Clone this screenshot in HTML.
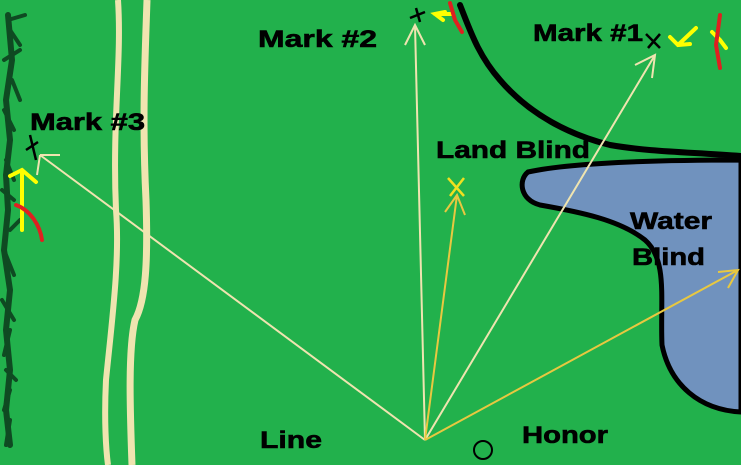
<!DOCTYPE html>
<html><head><style>body{margin:0}svg{display:block}text{font-family:"Liberation Sans",sans-serif;font-weight:bold;font-size:24px;fill:#000;stroke:#000;stroke-width:0.6}</style></head><body>
<svg width="741" height="465" viewBox="0 0 741 465" xmlns="http://www.w3.org/2000/svg">
<rect width="741" height="465" fill="#22b14c"/>
<path d="M118,0 C122,60 112,120 116,210 C120,260 112,320 106,380 C104,420 106,450 108,465" stroke="#efe4b0" stroke-width="6" fill="none"/>
<path d="M147,0 C145,60 142,120 146,200 C148,260 146,300 135,320 C128,350 130,410 132,465" stroke="#efe4b0" stroke-width="7" fill="none"/>
<path d="M8,15 L12,60 L6,100 L10,140 L6,175 L8,210 L4,250 L10,290 L6,330 L10,370 L6,410 L10,445" stroke="#0f4a22" stroke-width="6" fill="none" stroke-linecap="round"/>
<path d="M8,20 L25,15 M10,30 L20,45 M4,60 L20,50 M12,80 L20,100 M4,110 L14,130 M6,160 L14,180 M2,190 L14,200 M10,230 L20,220 M4,250 L14,275 M2,300 L14,320 M10,330 L4,355 M6,370 L16,380 M10,390 L4,410 M10,420 L6,445" stroke="#0f4a22" stroke-width="4" fill="none" stroke-linecap="round"/>
<path d="M528,172 C560,165 620,160 741,160 L741,412 C700,410 670,385 662,345 C660,300 668,260 645,240 C620,220 580,212 540,205 C520,200 518,180 528,172 Z" fill="#7092be" stroke="#000" stroke-width="5"/>
<path d="M460,5 C470,30 478,55 500,80 C530,115 570,135 610,145 C650,152 690,152 741,156" stroke="#000" stroke-width="6" fill="none" stroke-linecap="round"/>
<g stroke="#efe4b0" stroke-width="2" fill="none">
<path d="M425,440 L415,25 M405,45 L415,25 L425,45"/>
<path d="M425,440 L655,55 M635,65 L655,55 L652,78"/>
<path d="M425,440 L40,155 M40,155 L60,155 M40,155 L37,175"/>
</g>
<g stroke="#e8c840" stroke-width="2" fill="none">
<path d="M425,440 L457,195 M445,212 L457,195 L465,215"/>
<path d="M425,440 L738,270 M718,272 L738,270 L728,288"/>
</g>
<path d="M448,178 L464,196 M464,178 L450,196" stroke="#f0e020" stroke-width="2.5" fill="none"/>
<g stroke="#000" stroke-width="2.5" fill="none">
<path d="M410,18 L425,12 M416,8 L420,22"/>
<path d="M646,34 L660,48 M660,34 L648,48"/>
<path d="M30,135 L36,160 M26,150 L38,142"/>
</g>
<g stroke="#ffff00" stroke-width="4" fill="none" stroke-linecap="round">
<path d="M445,12 L435,14 L443,20 M435,14 L452,14"/>
<path d="M670,37 L678,45 L690,44 M678,45 L696,28"/>
<path d="M712,32 L720,40 L726,48"/>
<path d="M10,176 L22,170 L36,182 M22,170 L22,230"/>
</g>
<g stroke="#e02020" stroke-width="4" fill="none" stroke-linecap="round">
<path d="M450,3 L455,20 L462,32"/>
<path d="M720,15 L716,45 L720,68"/>
<path d="M16,205 C30,210 40,225 42,240"/>
</g>
<circle cx="483" cy="450" r="9" fill="none" stroke="#000" stroke-width="2"/>
<text x="258" y="47" textLength="119" lengthAdjust="spacingAndGlyphs">Mark #2</text>
<text x="533" y="41" textLength="110" lengthAdjust="spacingAndGlyphs">Mark #1</text>
<text x="30" y="130" textLength="115" lengthAdjust="spacingAndGlyphs">Mark #3</text>
<text x="436" y="158" textLength="154" lengthAdjust="spacingAndGlyphs">Land Blind</text>
<text x="630" y="229" textLength="82" lengthAdjust="spacingAndGlyphs">Water</text>
<text x="632" y="265" textLength="73" lengthAdjust="spacingAndGlyphs">Blind</text>
<text x="260" y="448" textLength="62" lengthAdjust="spacingAndGlyphs">Line</text>
<text x="522" y="443" textLength="86" lengthAdjust="spacingAndGlyphs">Honor</text>
</svg>
</body></html>
